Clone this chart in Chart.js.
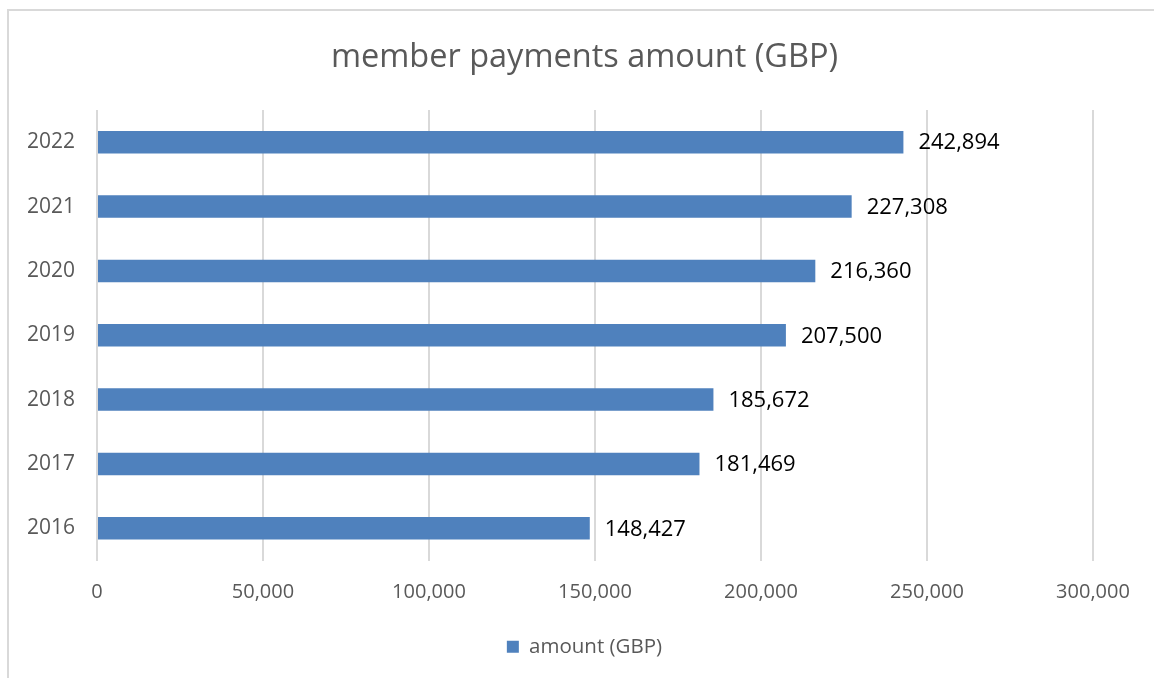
<!DOCTYPE html>
<html>
<head>
<meta charset="utf-8">
<script src="https://cdn.jsdelivr.net/npm/chart.js@4.4.1/dist/chart.umd.min.js"></script>
<style>
  html, body { margin: 0; padding: 0; background: #ffffff; }
  #wrap { position: relative; width: 1154px; height: 678px; overflow: hidden; }
  #frame { position: absolute; left: 7px; top: 9px; right: 0; bottom: 0;
           border-left: 2px solid #d9d9d9; border-top: 2px solid #d9d9d9; }
  canvas { position: absolute; left: 0; top: 0; }
</style>
</head>
<body>
<div id="wrap">
  <div id="frame"></div>
  <canvas id="c" width="1154" height="678"></canvas>
</div>
<script>
const titleText = "member payments amount (GBP)";
const seriesName = "amount (GBP)";
const years = ["2022", "2021", "2020", "2019", "2018", "2017", "2016"];
const amounts = [242894, 227308, 216360, 207500, 185672, 181469, 148427];
const xMin = 0;
const xMax = 300000;
const xStep = 50000;

const FONT = "'Open Sans', 'DejaVu Sans', sans-serif";
const GREY = "#595959";
const BAR = "#4f81bd";

const fmt = v => v.toLocaleString("en-US");

const dataLabels = {
  id: "dataLabels",
  afterDatasetsDraw(chart) {
    const ctx = chart.ctx;
    const meta = chart.getDatasetMeta(0);
    ctx.save();
    ctx.font = "22px " + FONT;
    ctx.fillStyle = "#000000";
    ctx.textAlign = "left";
    ctx.textBaseline = "middle";
    meta.data.forEach((bar, i) => {
      ctx.fillText(fmt(chart.data.datasets[0].data[i]), bar.x + 15, bar.y + 1);
    });
    ctx.restore();
  }
};

new Chart(document.getElementById("c"), {
  type: "bar",
  data: {
    labels: years,
    datasets: [{
      label: seriesName,
      data: amounts,
      backgroundColor: BAR,
      borderWidth: 0,
      barPercentage: 0.7,
      categoryPercentage: 0.5
    }]
  },
  options: {
    indexAxis: "y",
    responsive: false,
    animation: false,
    devicePixelRatio: 1,
    layout: { padding: { left: 15, right: 0, top: 0, bottom: 11 } },
    plugins: {
      title: {
        display: true,
        text: titleText,
        color: GREY,
        font: { family: FONT, size: 32.5, weight: "normal" },
        padding: { top: 38, bottom: 33 }
      },
      legend: {
        display: true,
        position: "bottom",
        labels: {
          color: GREY,
          font: { family: FONT, size: 20.5 },
          boxWidth: 12,
          boxHeight: 12,
          padding: 10
        }
      },
      tooltip: { enabled: false }
    },
    scales: {
      x: {
        min: xMin,
        max: xMax,
        ticks: {
          stepSize: xStep,
          color: GREY,
          font: { family: FONT, size: 20 },
          padding: 20,
          callback: v => fmt(v)
        },
        grid: { color: "#d9d9d9", lineWidth: 2, drawTicks: false },
        border: { display: false },
        afterFit(scale) { scale.height = 66; scale.paddingRight = 61; }
      },
      y: {
        ticks: {
          color: GREY,
          font: { family: FONT, size: 21 },
          padding: 22
        },
        grid: { display: false, drawTicks: false },
        border: { display: false },
        afterFit(scale) { scale.width = 82; }
      }
    }
  },
  plugins: [dataLabels]
});
</script>
</body>
</html>
